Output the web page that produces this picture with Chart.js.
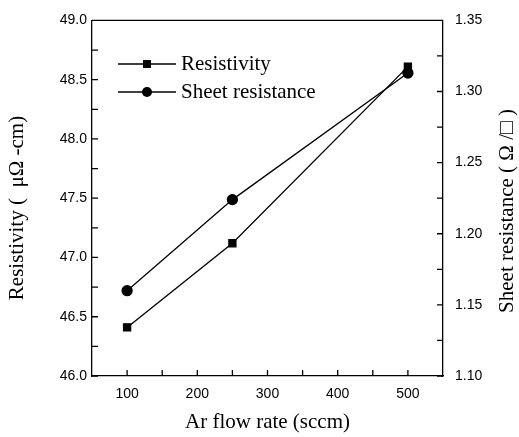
<!DOCTYPE html>
<html>
<head>
<meta charset="utf-8">
<script src="https://cdn.jsdelivr.net/npm/chart.js@4/dist/chart.umd.min.js"></script>
<style>
  html, body { margin: 0; padding: 0; background: #fff; }
  #wrap { width: 519px; height: 437px; }
</style>
</head>
<body>
<div id="wrap"><canvas id="chart"></canvas></div>
<script>
// data
var flowRates = [100, 250, 500];
var resistivity = [46.41, 47.12, 48.61];
var sheetResistance = [1.160, 1.224, 1.313];

var xTicks = [100, 200, 300, 400, 500];
var xMinor = [150, 250, 350, 450];
var yTicks = [46.0, 46.5, 47.0, 47.5, 48.0, 48.5, 49.0];
var yMinor = [46.25, 46.75, 47.25, 47.75, 48.25, 48.75];
var y1Ticks = [1.10, 1.15, 1.20, 1.25, 1.30, 1.35];
var y1Minor = [1.125, 1.175, 1.225, 1.275, 1.325];

var serif = '"Liberation Serif", "Times New Roman", serif';
var sans = '"Liberation Sans", Arial, sans-serif';

function pts(ys) {
  return flowRates.map(function (x, i) { return { x: x, y: ys[i] }; });
}

var frame = {
  id: "frame",
  afterDraw: function (chart) {
    var c = chart.ctx, a = chart.chartArea, s = chart.scales;
    var len = 6;
    c.save();
    c.strokeStyle = "#000";
    c.lineWidth = 1.3;
    c.beginPath();
    c.moveTo(a.left, a.top); c.lineTo(a.right, a.top);
    xTicks.concat(xMinor).forEach(function (v) {
      var p = s.x.getPixelForValue(v);
      c.moveTo(p, a.bottom); c.lineTo(p, a.bottom - len);
    });
    yTicks.concat(yMinor).forEach(function (v) {
      var p = s.y.getPixelForValue(v);
      c.moveTo(a.left, p); c.lineTo(a.left + len, p);
    });
    y1Ticks.concat(y1Minor).forEach(function (v) {
      var p = s.y1.getPixelForValue(v);
      c.moveTo(a.right, p); c.lineTo(a.right - len, p);
    });
    c.stroke();

    // axis titles
    c.fillStyle = "#000";
    c.textAlign = "center";
    c.textBaseline = "middle";
    c.font = "21px " + serif;
    c.fillText("Ar flow rate (sccm)", (a.left + a.right) / 2, 422);
    c.translate(17, 208);
    c.rotate(-Math.PI / 2);
    c.fillText("Resistivity (  \u03bc\u03a9 -cm)", 0, 0);
    c.setTransform(1, 0, 0, 1, 0, 0);
    c.translate(507, 211);
    c.rotate(-Math.PI / 2);
    c.fillText("Sheet resistance ( \u03a9 /\u25a1 )", 0, 0);
    c.setTransform(1, 0, 0, 1, 0, 0);

    // legend inside the plot
    var items = [
      { label: "Resistivity", style: "rect", y: 64 },
      { label: "Sheet resistance", style: "circle", y: 92 }
    ];
    items.forEach(function (it) {
      c.beginPath();
      c.lineWidth = 1.3;
      c.moveTo(118, it.y); c.lineTo(176, it.y);
      c.stroke();
      c.beginPath();
      if (it.style === "rect") {
        c.rect(143, it.y - 4, 8, 8);
      } else {
        c.arc(147, it.y, 5, 0, Math.PI * 2);
      }
      c.fill();
      c.textAlign = "left";
      c.font = "21px " + serif;
      c.fillText(it.label, 181, it.y);
    });
    c.restore();
  }
};

new Chart(document.getElementById("chart"), {
  type: "line",
  data: {
    datasets: [
      {
        label: "Resistivity",
        data: pts(resistivity),
        yAxisID: "y",
        borderColor: "#000",
        backgroundColor: "#000",
        borderWidth: 1.3,
        pointStyle: "rect",
        pointRadius: 5,
        pointHoverRadius: 5
      },
      {
        label: "Sheet resistance",
        data: pts(sheetResistance),
        yAxisID: "y1",
        borderColor: "#000",
        backgroundColor: "#000",
        borderWidth: 1.3,
        pointStyle: "circle",
        pointRadius: 5,
        pointHoverRadius: 5
      }
    ]
  },
  options: {
    responsive: true,
    maintainAspectRatio: false,
    animation: false,
    layout: { padding: { top: 14, left: 0, right: 0, bottom: 0 } },
    plugins: {
      legend: { display: false },
      tooltip: { enabled: false }
    },
    scales: {
      x: {
        type: "linear",
        min: 50,
        max: 550,
        afterBuildTicks: function (s) { s.ticks = xTicks.map(function (v) { return { value: v }; }); },
        afterFit: function (s) { s.height = 61; },
        grid: { display: false, drawTicks: false, tickLength: 0 },
        border: { display: true, color: "#000", width: 1.3 },
        ticks: { color: "#000", font: { family: sans, size: 14 }, padding: 10, maxRotation: 0 }
      },
      y: {
        position: "left",
        min: 46,
        max: 49,
        afterBuildTicks: function (s) { s.ticks = yTicks.map(function (v) { return { value: v }; }); },
        afterFit: function (s) { s.width = 92; },
        grid: { display: false, drawTicks: false, tickLength: 0 },
        border: { display: true, color: "#000", width: 1.3 },
        ticks: {
          color: "#000", font: { family: sans, size: 14 }, padding: 5,
          callback: function (v) { return v.toFixed(1); }
        }
      },
      y1: {
        position: "right",
        min: 1.10,
        max: 1.35,
        afterBuildTicks: function (s) { s.ticks = y1Ticks.map(function (v) { return { value: v }; }); },
        afterFit: function (s) { s.width = 76; },
        grid: { display: false, drawTicks: false, tickLength: 0 },
        border: { display: true, color: "#000", width: 1.3 },
        ticks: {
          color: "#000", font: { family: sans, size: 14 }, padding: 12,
          callback: function (v) { return v.toFixed(2); }
        }
      }
    }
  },
  plugins: [frame]
});
</script>
</body>
</html>
